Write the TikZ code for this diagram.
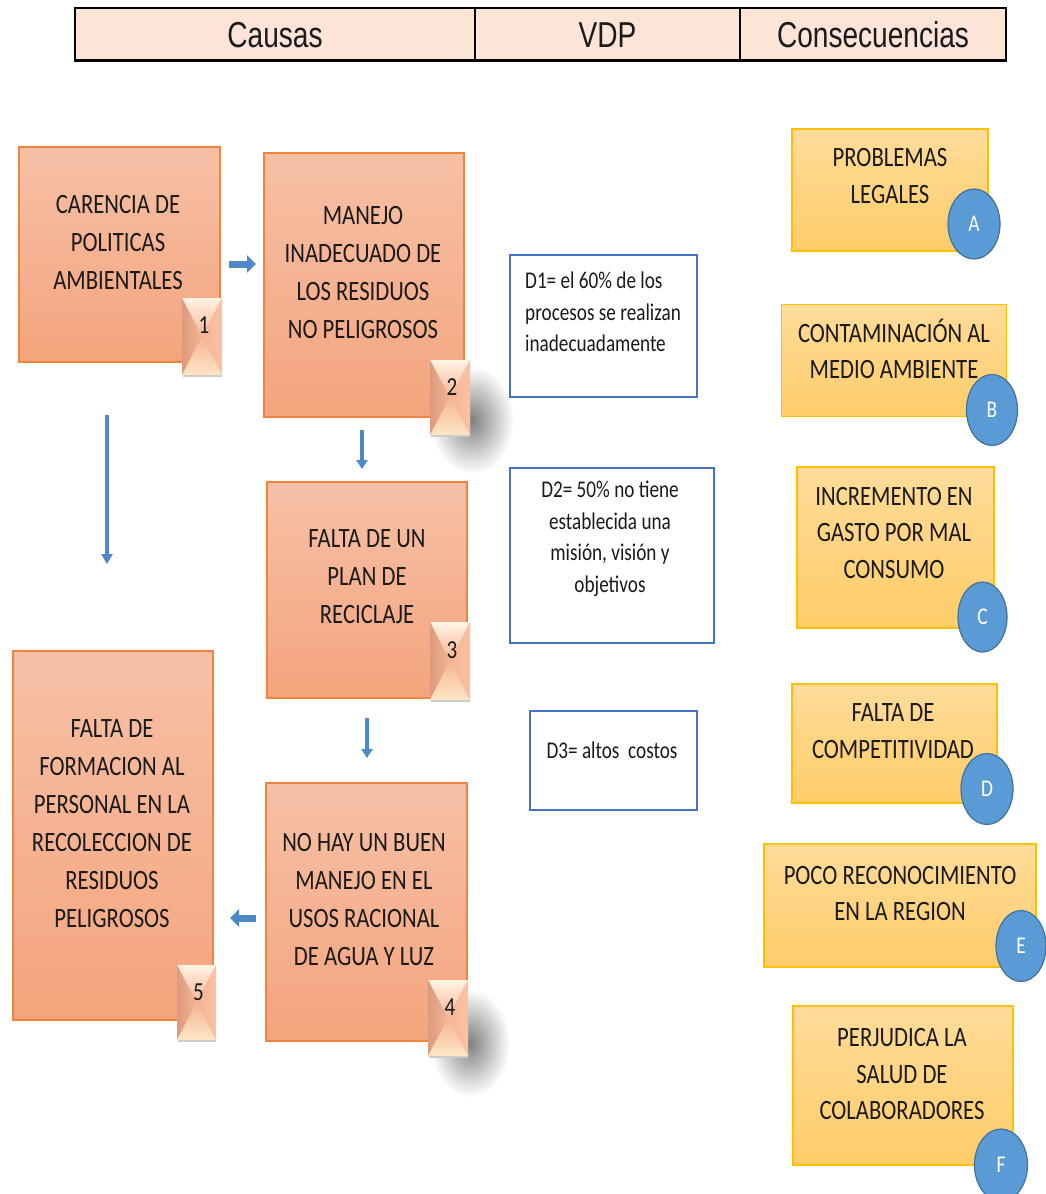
\documentclass[tikz,border=0pt]{standalone}
\usepackage{fontspec}
\setmainfont{Carlito}
\newfontfamily\cfont[FakeStretch=0.81]{Carlito}
\newfontfamily\dfont[FakeStretch=0.80]{Carlito}
\newfontfamily\hfont[FakeStretch=0.78]{Liberation Sans}
\usetikzlibrary{arrows.meta,shapes.geometric,fadings}
\definecolor{hdrfill}{HTML}{FCE4D6}
\definecolor{salmontop}{HTML}{F6C0A6}
\definecolor{salmonbot}{HTML}{F4A47D}
\definecolor{salmonline}{HTML}{F0843C}
\definecolor{yeltop}{HTML}{FFDC9A}
\definecolor{yelbot}{HTML}{FFCC68}
\definecolor{yelline}{HTML}{FFC000}
\definecolor{circfill}{HTML}{5B9BD5}
\definecolor{circline}{HTML}{41719C}
\definecolor{dline}{HTML}{4472C4}
\definecolor{arrblue}{HTML}{4F88C6}
\definecolor{bevtop}{HTML}{FFF4E4}
\definecolor{bevmid}{HTML}{F6B495}
\definecolor{bevright}{HTML}{F9C2A4}
\definecolor{bevleft}{HTML}{DD9B7E}
\definecolor{bevbot}{HTML}{FCE6C4}
\definecolor{txt}{HTML}{1A1A1A}
\tikzfading[name=softfade, inner color=transparent!0, outer color=transparent!100]
\newcommand{\bevbadge}[6]{%
  \coordinate (#1c) at ({(#2+#4)/2},{(#3+#5)/2});
  \fill[bevmid] (#2,#3) rectangle (#4,#5);
  \shade[top color=bevtop, bottom color=bevmid] (#2,#3) -- (#4,#3) -- (#1c) -- cycle;
  \shade[left color=bevleft, right color=bevmid] (#2,#3) -- (#1c) -- (#2,#5) -- cycle;
  \shade[left color=bevmid, right color=bevright] (#4,#3) -- (#1c) -- (#4,#5) -- cycle;
  \shade[top color=bevmid, bottom color=bevbot] (#2,#5) -- (#1c) -- (#4,#5) -- cycle;
  \draw[black!20, line width=1.5pt] ({#2+1},{#5+1}) -- (#4,{#5+1});
  \node[numlabel] (#1) at ({(#2+#4)/2+2},{#3+0.36*(#5-#3)}) {#6};
}
\begin{document}
\begin{tikzpicture}[x=1pt,y=-1pt,
  hdrcell/.style={draw=black, line width=1.2pt, fill=hdrfill, inner sep=0pt,
    font=\hfont\fontsize{36}{40}\selectfont, text height=26pt, text depth=0pt, text=txt},
  causebox/.style={draw=salmonline, line width=1.6pt, top color=salmontop, bottom color=salmonbot, inner sep=0pt},
  consbox/.style={draw=yelline, line width=1.6pt, top color=yeltop, bottom color=yelbot, inner sep=0pt},
  dbox/.style={draw=dline, line width=1.4pt, fill=white, inner sep=0pt},
  boxtext/.style={align=center, inner sep=0pt, text=txt, font=\cfont\fontsize{28}{38}\selectfont},
  constext/.style={align=center, inner sep=0pt, text=txt, font=\cfont\fontsize{28}{36.5}\selectfont},
  dtext/.style={inner sep=0pt, text=txt, font=\dfont\fontsize{24}{31.5}\selectfont},
  numlabel/.style={inner sep=0pt, text=txt, font=\cfont\fontsize{26}{28}\selectfont, text height=16.5pt, text depth=0pt},
  circ/.style={ellipse, draw=circline, line width=1.2pt, fill=circfill, inner sep=0pt, text=white,
    font=\cfont\fontsize{24}{26}\selectfont},
  softshadow/.style={fill=black!50, path fading=softfade},
  blockarrow/.style={draw=arrblue, line width=7pt, -{Triangle[width=17pt,length=9pt]}},
  slimarrow/.style={draw=arrblue, line width=4.5pt, -{Triangle[width=11pt,length=9pt]}},
  longarrow/.style={draw=arrblue, line width=3.5pt, -{Triangle[width=11pt,length=10pt]}}
]
\useasboundingbox (0,0) rectangle (1045,1194);

% soft shadows
\path[softshadow] (472,420) ellipse (42 and 54);
\path[softshadow] (470,1043) ellipse (40 and 54);

% header
\node[hdrcell, minimum width=400pt, minimum height=52pt] (hc) at (275,34) {Causas};
\node[hdrcell, minimum width=265pt, minimum height=52pt] (hv) at (607.5,34) {VDP};
\node[hdrcell, minimum width=266pt, minimum height=52pt] (hs) at (873,34) {Consecuencias};
\draw[line width=2.4pt] (hc.south west) -- (hs.south east);

% cause boxes
\node[causebox, minimum width=201pt, minimum height=215pt] (b1) at (119.5,254.5) {};
\node[boxtext] (t1) at (118,242.5) {CARENCIA DE\\POLITICAS\\AMBIENTALES};
\bevbadge{n1}{182}{298}{222}{375}{1}

\node[causebox, minimum width=200pt, minimum height=264pt] (b2) at (364,285) {};
\node[boxtext] (t2) at (363,273) {MANEJO\\INADECUADO DE\\LOS RESIDUOS\\NO PELIGROSOS};
\bevbadge{n2}{430}{360}{470}{435}{2}

\node[causebox, minimum width=200pt, minimum height=216pt] (b3) at (367,590) {};
\node[boxtext] (t3) at (367,577) {FALTA DE UN\\PLAN DE\\RECICLAJE};
\bevbadge{n3}{430}{622}{470}{700}{3}

\node[causebox, minimum width=201pt, minimum height=258pt] (b4) at (366.5,912) {};
\node[boxtext] (t4) at (364,900) {NO HAY UN BUEN\\MANEJO EN EL\\USOS RACIONAL\\DE AGUA Y LUZ};
\bevbadge{n4}{428}{980}{468}{1056}{4}

\node[causebox, minimum width=200pt, minimum height=369pt] (b5) at (113,835.5) {};
\node[boxtext] (t5) at (112,823.5) {FALTA DE\\FORMACION AL\\PERSONAL EN LA\\RECOLECCION DE\\RESIDUOS\\PELIGROSOS};
\bevbadge{n5}{177}{965}{216}{1040}{5}

% arrows
\coordinate (a12s) at (229,264); \coordinate (a12e) at (256,264);
\coordinate (a23s) at (362,430); \coordinate (a23e) at (362,469);
\coordinate (a34s) at (367,718); \coordinate (a34e) at (367,758);
\coordinate (a45s) at (256,918); \coordinate (a45e) at (230,918);
\coordinate (a15s) at (107,415); \coordinate (a15e) at (107,564);
\draw[blockarrow] (a12s) -- (a12e);
\draw[slimarrow] (a23s) -- (a23e);
\draw[slimarrow] (a34s) -- (a34e);
\draw[blockarrow] (a45s) -- (a45e);
\draw[longarrow] (a15s) -- (a15e);

% VDP boxes
\node[dbox, minimum width=187pt, minimum height=142pt] (d1) at (603.5,326) {};
\node[dtext, align=left, anchor=west] (d1t) at (525,312) {D1= el 60\% de los\\procesos se realizan\\inadecuadamente};
\node[dbox, minimum width=204pt, minimum height=175pt] (d2) at (612,555.5) {};
\node[dtext, align=center] (d2t) at (610,539) {D2= 50\% no tiene\\establecida una\\misión, visión y\\objetivos};
\node[dbox, minimum width=167pt, minimum height=99pt] (d3) at (613.5,760.5) {};
\node[dtext] (d3t) at (612,750) {D3= altos\ \ costos};

% consequence boxes
\node[consbox, minimum width=196pt, minimum height=122pt] (cA) at (890,190) {};
\node[constext] (tA) at (890,176) {PROBLEMAS\\LEGALES};
\node[circ, minimum width=52pt, minimum height=70pt] (oA) at (974,224) {A};

\node[consbox, minimum width=225pt, minimum height=112pt] (cB) at (894,360.5) {};
\node[constext] (tB) at (894,349) {CONTAMINACIÓN AL\\MEDIO AMBIENTE};
\node[circ, minimum width=51pt, minimum height=71pt] (oB) at (992,410) {B};

\node[consbox, minimum width=197pt, minimum height=161pt] (cC) at (895.5,547.5) {};
\node[constext] (tC) at (894,533) {INCREMENTO EN\\GASTO POR MAL\\CONSUMO};
\node[circ, minimum width=49pt, minimum height=70pt] (oC) at (982.5,617) {C};

\node[consbox, minimum width=205pt, minimum height=119pt] (cD) at (894.5,743.5) {};
\node[constext] (tD) at (893,731) {FALTA DE\\COMPETITIVIDAD};
\node[circ, minimum width=52pt, minimum height=71pt] (oD) at (987,789) {D};

\node[consbox, minimum width=272pt, minimum height=123pt] (cE) at (900,905.5) {};
\node[constext] (tE) at (900,893.5) {POCO RECONOCIMIENTO\\EN LA REGION};
\node[circ, minimum width=50pt, minimum height=71pt] (oE) at (1021,946) {E};

\node[consbox, minimum width=220pt, minimum height=159pt] (cF) at (903,1085.5) {};
\node[constext] (tF) at (902,1074) {PERJUDICA LA\\SALUD DE\\COLABORADORES};
\node[circ, minimum width=53pt, minimum height=72pt] (oF) at (1001,1165) {F};
\end{tikzpicture}
\end{document}
